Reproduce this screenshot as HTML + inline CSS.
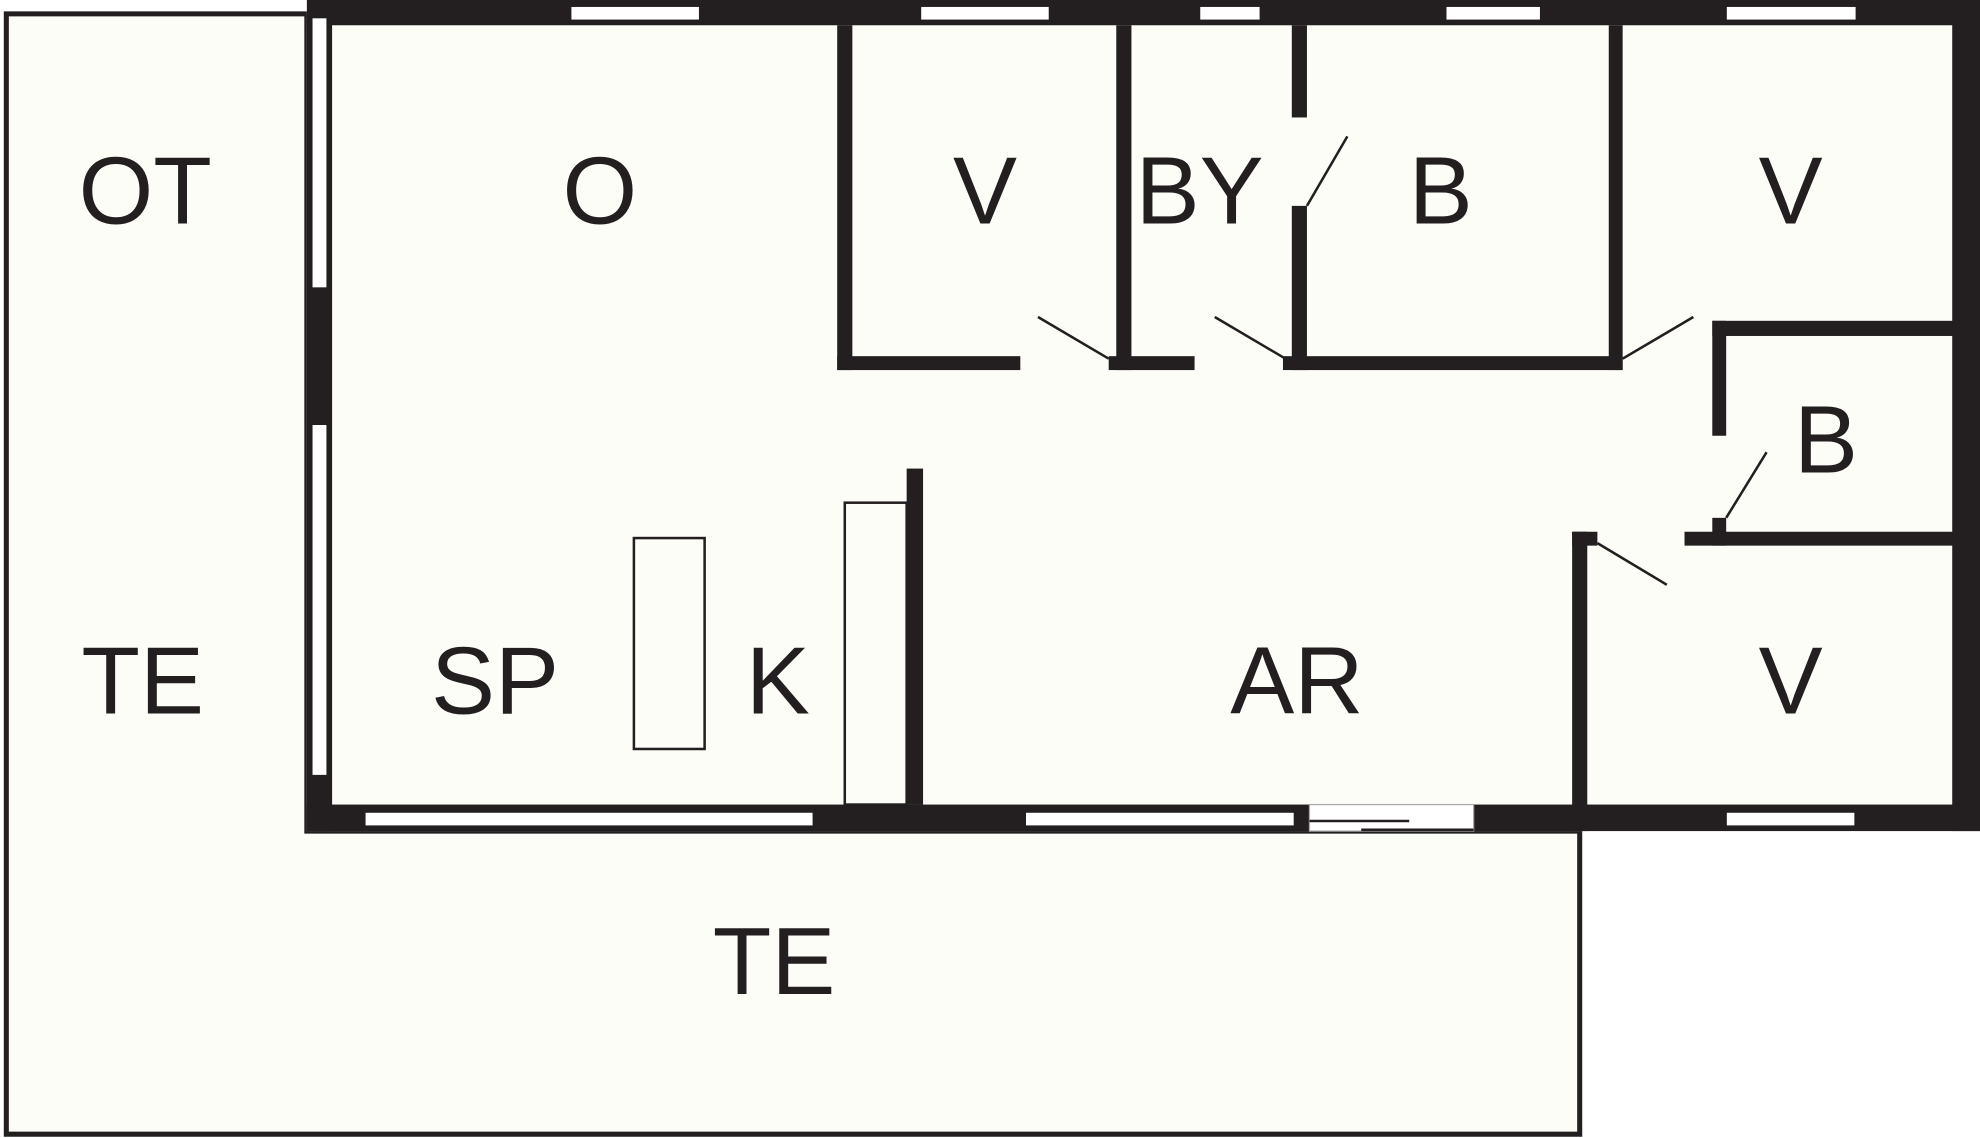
<!DOCTYPE html>
<html><head><meta charset="utf-8"><style>
html,body{margin:0;padding:0;background:#fff;}
svg{display:block;}
text{font-family:"Liberation Sans",sans-serif;font-size:76px;fill:#231f20;text-anchor:middle;}
</style></head><body>
<svg width="1980" height="1138" viewBox="0 0 1568 901" preserveAspectRatio="none" xmlns="http://www.w3.org/2000/svg">
<rect x="0" y="0" width="1568" height="901" fill="#ffffff"/>
<!-- terrace -->
<polygon points="5,11 243,11 243,658 1251,658 1251,898 5,898" fill="#fdfdf8" stroke="#231f20" stroke-width="4"/>
<rect x="243" y="0" width="1325" height="658" fill="#fdfdf8"/>
<g fill="#231f20">
<!-- outer walls -->
<rect x="243" y="0" width="1325" height="20"/>
<rect x="1546" y="0" width="22" height="658"/>
<rect x="243" y="637" width="1325" height="21"/>
<rect x="243" y="12" width="20" height="646"/>
<!-- interior walls -->
<rect x="663" y="20" width="12" height="273"/>
<rect x="663" y="282" width="145" height="11"/>
<rect x="878" y="282" width="68" height="11"/>
<rect x="1016" y="282" width="269" height="11"/>
<rect x="884" y="20" width="12" height="273"/>
<rect x="1023" y="20" width="12" height="73"/>
<rect x="1023" y="163" width="12" height="130"/>
<rect x="1274" y="20" width="11" height="273"/>
<rect x="1356" y="254" width="212" height="12"/>
<rect x="1356" y="254" width="11" height="91"/>
<rect x="1356" y="410" width="11" height="22"/>
<rect x="1334" y="421" width="234" height="11"/>
<rect x="1245" y="421" width="20" height="11"/>
<rect x="1245" y="421" width="12" height="237"/>
<rect x="718" y="371" width="13" height="266"/>
</g>
<!-- windows -->
<g fill="#fff" stroke="#231f20" stroke-width="1">
<rect x="452" y="5" width="102" height="11"/>
<rect x="729" y="5" width="102" height="11"/>
<rect x="950" y="5" width="48" height="11"/>
<rect x="1145" y="5" width="75" height="11"/>
<rect x="1367" y="5" width="103" height="11"/>
<rect x="247" y="14" width="12" height="214"/>
<rect x="247" y="336" width="12" height="278"/>
<rect x="289" y="643" width="355" height="11"/>
<rect x="812" y="643" width="213" height="11"/>
<rect x="1367" y="643" width="102" height="11"/>
<rect x="1037" y="637" width="130" height="21" stroke="#aaa"/>
</g>
<g stroke="#231f20" stroke-width="2">
<line x1="1037" y1="650" x2="1116" y2="650"/>
<line x1="1078" y1="657" x2="1167" y2="657"/>
<line x1="822" y1="251" x2="878" y2="284"/>
<line x1="962" y1="251" x2="1018" y2="284"/>
<line x1="1285" y1="284" x2="1341" y2="251"/>
<line x1="1035" y1="163" x2="1067" y2="108"/>
<line x1="1367" y1="410" x2="1399" y2="358"/>
<line x1="1265" y1="430" x2="1320" y2="463"/>
</g>
<g fill="none" stroke="#231f20" stroke-width="2">
<rect x="669" y="398" width="49" height="239"/>
<rect x="502" y="426" width="56" height="167"/>
</g>
<text x="115" y="177">OT</text>
<text x="475" y="177">O</text>
<text x="780" y="177">V</text>
<text x="950" y="177">BY</text>
<text x="1141" y="177">B</text>
<text x="1418" y="177">V</text>
<text x="1446" y="374">B</text>
<text x="113" y="565">TE</text>
<text x="392" y="565">SP</text>
<text x="616" y="565">K</text>
<text x="1027" y="565">AR</text>
<text x="1418" y="565">V</text>
<text x="613" y="787">TE</text>
</svg>
</body></html>
